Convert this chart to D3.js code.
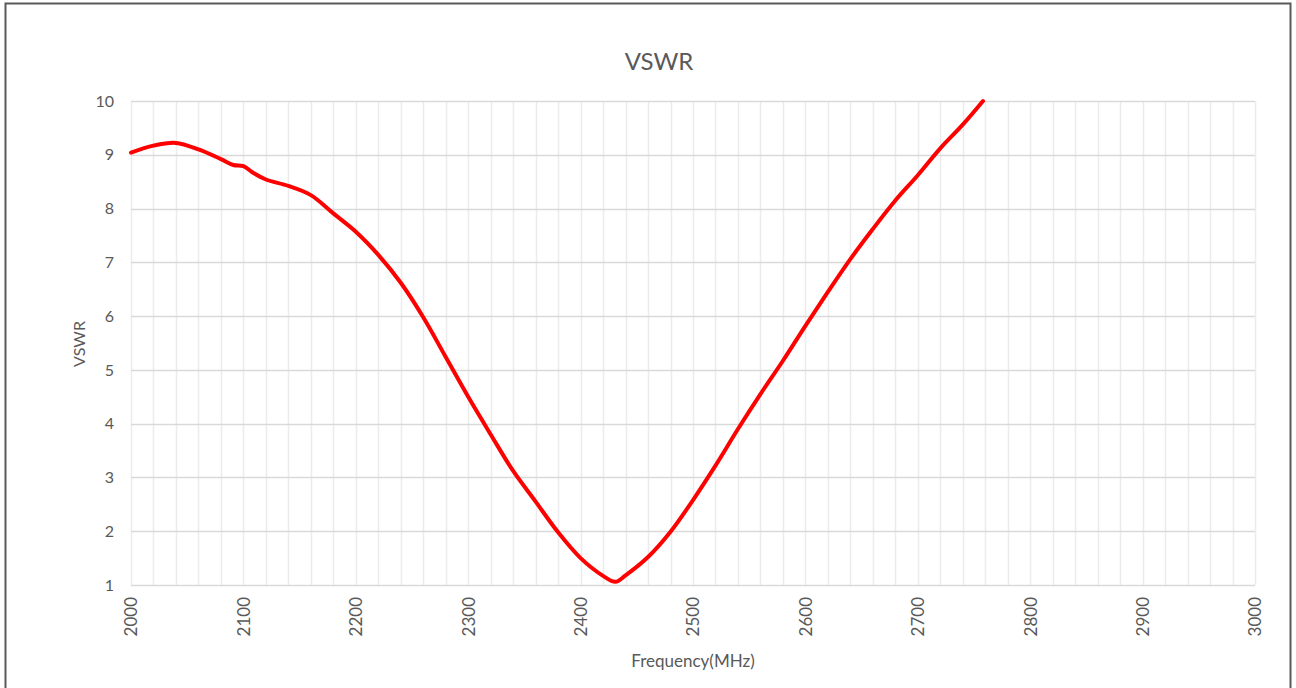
<!DOCTYPE html>
<html>
<head>
<meta charset="utf-8">
<script src="https://cdn.jsdelivr.net/npm/d3@7"></script>
<style>
  body { margin: 0; background: #fff; }
  text { font-family: Lato, "Open Sans", sans-serif; fill: #595959; }
</style>
</head>
<body>
<div id="chart"></div>
<script>
// Frequency (MHz) and VSWR
const freq = [2000, 2020, 2040, 2060, 2080, 2091, 2100, 2109, 2120, 2140, 2160, 2180, 2200, 2220, 2240,
  2260, 2280, 2300, 2320, 2340, 2360, 2380, 2400, 2420, 2431, 2440, 2460, 2480, 2500, 2520,
  2540, 2560, 2580, 2600, 2620, 2640, 2660, 2680, 2700, 2720, 2740, 2758];
const vswr = [9.04, 9.17, 9.22, 9.10, 8.92, 8.81, 8.79, 8.66, 8.54, 8.42, 8.25, 7.91, 7.57, 7.14, 6.62,
  5.98, 5.24, 4.5, 3.8, 3.12, 2.55, 1.98, 1.5, 1.17, 1.06, 1.18, 1.52, 1.99, 2.58, 3.22,
  3.9, 4.55, 5.17, 5.82, 6.45, 7.06, 7.62, 8.15, 8.62, 9.12, 9.56, 10.0];

const xTicks = d3.range(2000, 3001, 100);
const xGrid = d3.range(2000, 3001, 20);
const yTicks = d3.range(1, 11, 1);

const data = freq.map(function (f, i) { return { f: f, v: vswr[i] }; });

const W = 1296, H = 688;
const margin = { top: 101, right: 41, bottom: 103, left: 131 },
  width = W - margin.left - margin.right,
  height = H - margin.top - margin.bottom;

const svg = d3.select('#chart').append('svg')
  .attr('width', W)
  .attr('height', H);

// outer chart frame
svg.append('rect')
  .attr('x', 5.5).attr('y', 3.5)
  .attr('width', 1285).attr('height', 700)
  .attr('fill', 'none')
  .attr('stroke', '#595959')
  .attr('stroke-width', 2);

const g = svg.append('g')
  .attr('transform', 'translate(' + margin.left + ',' + margin.top + ')');

const x = d3.scaleLinear().domain([2000, 3000]).range([0, width]);
const y = d3.scaleLinear().domain([1, 10]).range([height, 0]);

// vertical grid
g.selectAll('.vgrid')
  .data(xGrid)
  .enter().append('line')
  .attr('x1', d => Math.round(x(d)) + 0.5).attr('x2', d => Math.round(x(d)) + 0.5)
  .attr('y1', 0).attr('y2', height)
  .attr('stroke', '#ececec')
  .attr('stroke-width', 1.5);

// horizontal grid
g.selectAll('.hgrid')
  .data(yTicks)
  .enter().append('line')
  .attr('x1', 0).attr('x2', width)
  .attr('y1', d => Math.round(y(d)) + 0.5).attr('y2', d => Math.round(y(d)) + 0.5)
  .attr('stroke', '#d9d9d9')
  .attr('stroke-width', 1.5);

// y axis labels
const yAxis = g.append('g')
  .call(d3.axisLeft(y).tickValues(yTicks).tickSize(0).tickPadding(17));
yAxis.select('.domain').remove();
yAxis.selectAll('text').style('font-size', '16px').attr('fill', '#595959');

// x axis labels, rotated
const xAxis = g.append('g')
  .attr('transform', 'translate(0,' + height + ')')
  .call(d3.axisBottom(x).tickValues(xTicks).tickSize(0).tickFormat(d3.format('d')));
xAxis.select('.domain').remove();
xAxis.selectAll('text')
  .style('font-size', '17px')
  .attr('fill', '#595959')
  .attr('text-anchor', 'end')
  .attr('dy', '0.35em')
  .attr('transform', 'translate(0,12) rotate(-90)')
  .attr('x', 0).attr('y', 0);

// curve
const line = d3.line()
  .x(d => x(d.f))
  .y(d => y(d.v))
  .curve(d3.curveCatmullRom.alpha(0.5));

g.append('path')
  .datum(data)
  .attr('fill', 'none')
  .attr('stroke', '#ff0000')
  .attr('stroke-width', 4)
  .attr('stroke-linejoin', 'round')
  .attr('stroke-linecap', 'round')
  .attr('d', line);

// titles
svg.append('text')
  .attr('x', 659).attr('y', 70)
  .attr('text-anchor', 'middle')
  .style('font-size', '24px')
  .text('VSWR');

svg.append('text')
  .attr('transform', 'translate(85,344) rotate(-90)')
  .attr('text-anchor', 'middle')
  .style('font-size', '16px')
  .text('VSWR');

svg.append('text')
  .attr('x', 693).attr('y', 667)
  .attr('text-anchor', 'middle')
  .style('font-size', '17px')
  .text('Frequency(MHz)');
</script>
</body>
</html>
